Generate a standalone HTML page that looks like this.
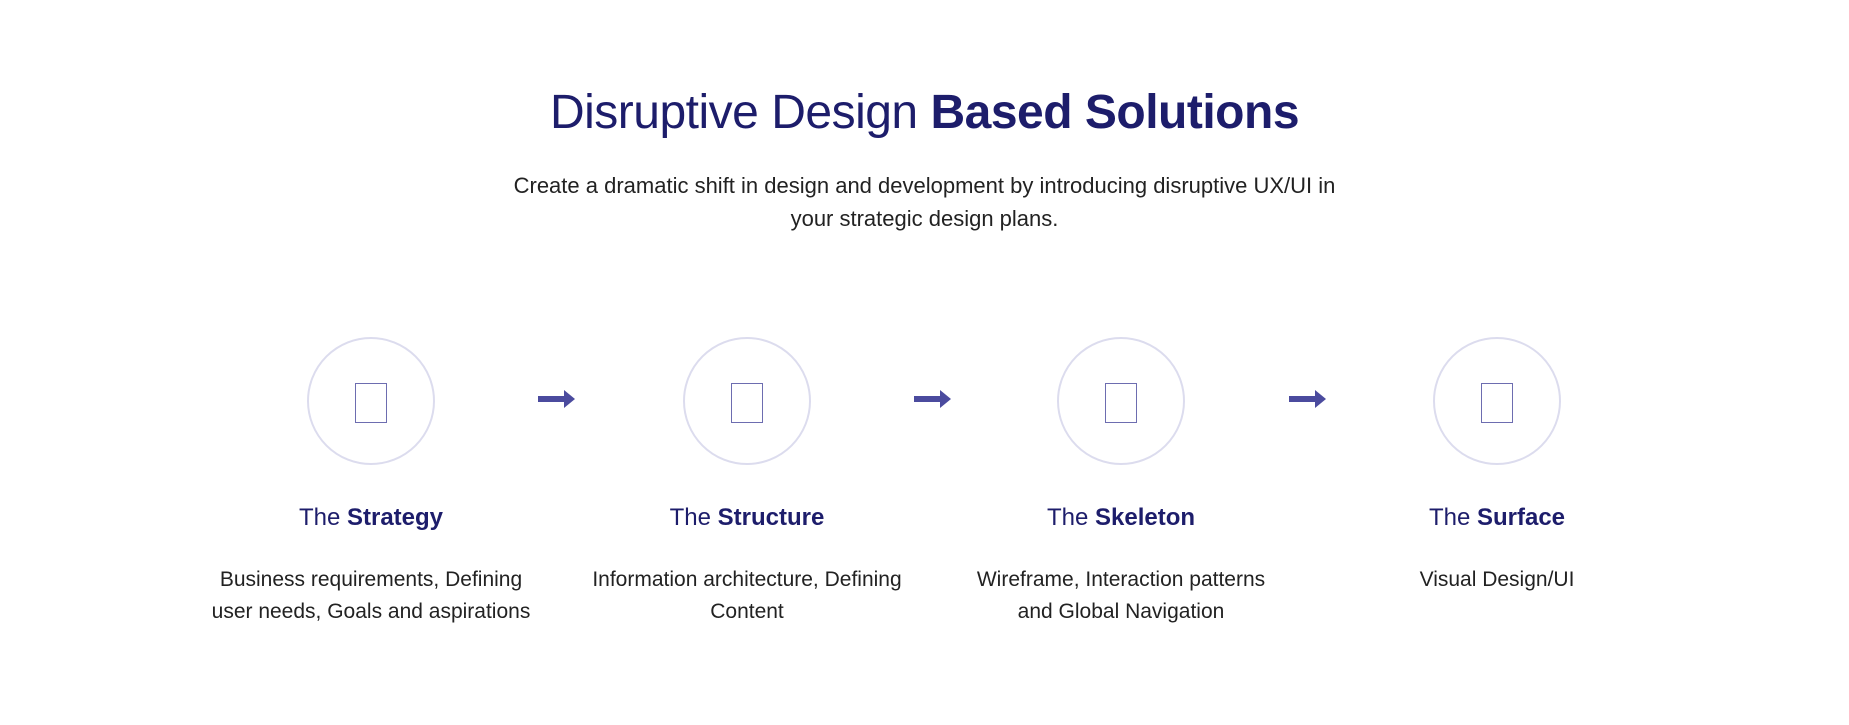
<!DOCTYPE html>
<html><head><meta charset="utf-8"><style>
body{margin:0;width:1849px;height:725px;background:#fff;position:relative;font-family:"Liberation Sans",sans-serif;overflow:hidden}
.t{position:absolute;left:0;width:1849px;text-align:center;color:#1d1d6b;font-size:48px;top:85px;letter-spacing:-0.5px}
.s{position:absolute;left:0;width:1849px;text-align:center;color:#222;font-size:22px;line-height:33px;top:169px}
.c{position:absolute;width:128px;height:128px;border:2px solid #dcdcee;border-radius:50%;box-sizing:border-box;top:337px}
.sq{position:absolute;width:32px;height:40px;border:1.5px solid #6d6db0;box-sizing:border-box;top:383px}
.h{position:absolute;width:400px;text-align:center;color:#1d1d6b;font-size:24px;top:504px}
.d{position:absolute;width:400px;text-align:center;color:#222;font-size:21px;line-height:32px;top:564px}
.a{position:absolute;top:390px}
</style></head><body>
<div class="t">Disruptive Design <b>Based Solutions</b></div>
<div class="s">Create a dramatic shift in design and development by introducing disruptive UX/UI in<br>your strategic design plans.</div>

<div class="c" style="left:307px"></div><div class="sq" style="left:355px"></div>
<div class="c" style="left:683px"></div><div class="sq" style="left:731px"></div>
<div class="c" style="left:1057px"></div><div class="sq" style="left:1105px"></div>
<div class="c" style="left:1433px"></div><div class="sq" style="left:1481px"></div>

<svg class="a" style="left:538px" width="40" height="18"><rect x="0" y="6" width="28" height="6" fill="#4b4b9e"/><polygon points="26,0 37,9 26,18" fill="#4b4b9e"/></svg>
<svg class="a" style="left:914px" width="40" height="18"><rect x="0" y="6" width="28" height="6" fill="#4b4b9e"/><polygon points="26,0 37,9 26,18" fill="#4b4b9e"/></svg>
<svg class="a" style="left:1289px" width="40" height="18"><rect x="0" y="6" width="28" height="6" fill="#4b4b9e"/><polygon points="26,0 37,9 26,18" fill="#4b4b9e"/></svg>

<div class="h" style="left:171px">The <b>Strategy</b></div>
<div class="h" style="left:547px">The <b>Structure</b></div>
<div class="h" style="left:921px">The <b>Skeleton</b></div>
<div class="h" style="left:1297px">The <b>Surface</b></div>

<div class="d" style="left:171px">Business requirements, Defining<br>user needs, Goals and aspirations</div>
<div class="d" style="left:547px">Information architecture, Defining<br>Content</div>
<div class="d" style="left:921px">Wireframe, Interaction patterns<br>and Global Navigation</div>
<div class="d" style="left:1297px">Visual Design/UI</div>
</body></html>
